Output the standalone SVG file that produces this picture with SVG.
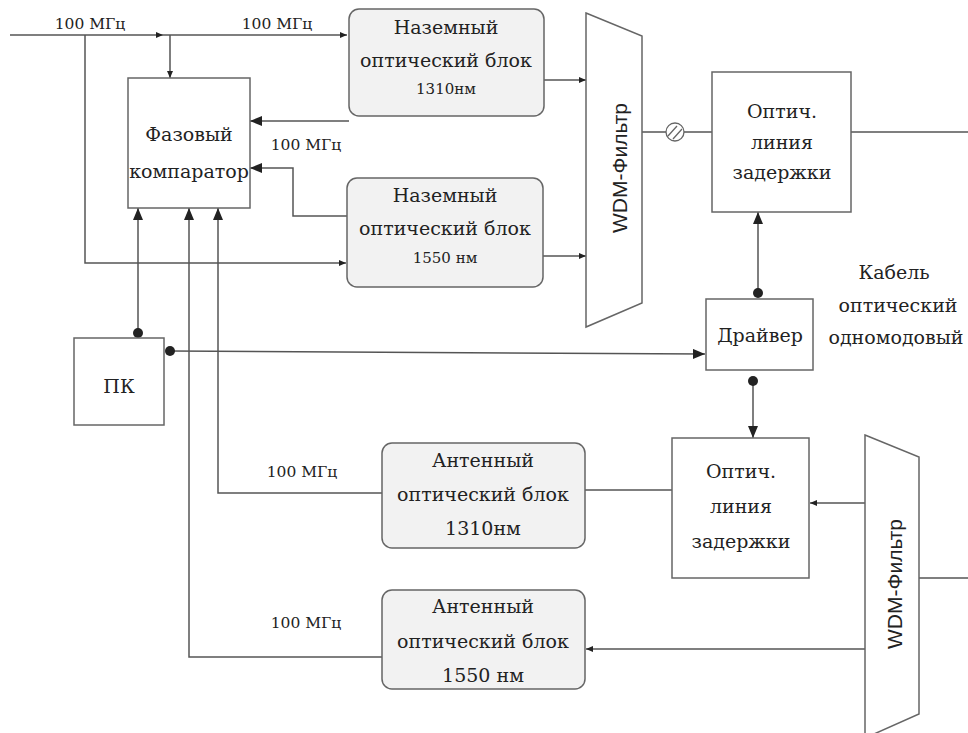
<svg xmlns="http://www.w3.org/2000/svg" width="968" height="733" viewBox="0 0 968 733">
<style>
text{font-family:"DejaVu Serif","Liberation Serif",serif;fill:#222;text-anchor:middle}
.box{fill:#fff;stroke:#666;stroke-width:1.5}
.rbox{fill:#f2f2f2;stroke:#666;stroke-width:1.5}
.ln{fill:none;stroke:#555;stroke-width:1.5}
.t{font-size:19px}
.s{font-size:15px}
.lbl{font-size:15.5px}
text.w{font-family:"Liberation Sans",Arial,sans-serif;font-size:21px}
.dot{fill:#222}
</style>
<defs>
<marker id="big" viewBox="0 0 12 10" refX="12" refY="5" markerWidth="12" markerHeight="10" markerUnits="userSpaceOnUse" orient="auto"><path d="M0,0L12,5L0,10z" fill="#222"/></marker>
<marker id="sm" viewBox="0 0 7 6" refX="7" refY="3" markerWidth="7" markerHeight="6" markerUnits="userSpaceOnUse" orient="auto"><path d="M0,0L7,3L0,6z" fill="#222"/></marker>
</defs>
<g id="connectors">
<path class="ln" d="M10,35H163" marker-end="url(#sm)"/>
<path class="ln" d="M163,35H347" marker-end="url(#sm)"/>
<path class="ln" d="M170,35V78" marker-end="url(#sm)"/>
<path class="ln" d="M85,35V263H346" marker-end="url(#sm)"/>
<path class="ln" d="M349,121H250" marker-end="url(#big)"/>
<path class="ln" d="M347,216H293V168H250" marker-end="url(#big)"/>
<path class="ln" d="M544,80H586" marker-end="url(#sm)"/>
<path class="ln" d="M543,256H586" marker-end="url(#sm)"/>
<path class="ln" d="M642,132H712"/>
<path class="ln" d="M851,132H968"/>
<path class="ln" d="M138,333V208" marker-end="url(#big)"/>
<path class="ln" d="M382,657H189V208" marker-end="url(#big)"/>
<path class="ln" d="M382,493H218V208" marker-end="url(#big)"/>
<path class="ln" d="M170,351L705,354" marker-end="url(#big)"/>
<path class="ln" d="M758,293V212" marker-end="url(#big)"/>
<path class="ln" d="M753,381V438" marker-end="url(#big)"/>
<path class="ln" d="M672,490H585"/>
<path class="ln" d="M865,503H810" marker-end="url(#sm)"/>
<path class="ln" d="M865,649H586" marker-end="url(#sm)"/>
<path class="ln" d="M919,578H968"/>
<circle class="dot" cx="138" cy="333" r="5"/>
<circle class="dot" cx="170" cy="351" r="5"/>
<circle class="dot" cx="758" cy="293" r="5"/>
<circle class="dot" cx="753" cy="381" r="5"/>
<g id="splice">
<circle cx="675" cy="132" r="9" fill="#fff" stroke="#666" stroke-width="1.3"/>
<path d="M668,136L677,126M673,139L682,129" stroke="#666" stroke-width="1.3"/>
</g>
</g>
<g id="labels">
<text class="lbl" x="90" y="29">100 МГц</text>
<text class="lbl" x="277" y="29">100 МГц</text>
<text class="lbl" x="306" y="150">100 МГц</text>
<text class="lbl" x="302" y="477">100 МГц</text>
<text class="lbl" x="306" y="628">100 МГц</text>
</g>
<g id="comparator">
<rect class="box" x="128" y="78" width="122" height="130"/>
<text class="t" x="189" y="141">Фазовый</text>
<text class="t" x="189" y="178">компаратор</text>
</g>
<g id="pc">
<rect class="box" x="74" y="338" width="90" height="87"/>
<text class="t" x="119" y="393">ПК</text>
</g>
<g id="ground1310">
<rect class="rbox" x="349" y="9" width="195" height="107" rx="10"/>
<text class="t" x="446" y="34">Наземный</text>
<text class="t" x="446" y="67">оптический блок</text>
<text class="s" x="446" y="94">1310нм</text>
</g>
<g id="ground1550">
<rect class="rbox" x="347" y="178" width="196" height="109" rx="10"/>
<text class="t" x="445" y="202">Наземный</text>
<text class="t" x="445" y="235">оптический блок</text>
<text class="s" x="445" y="263">1550 нм</text>
</g>
<g id="wdm1">
<path class="box" d="M586,13L642,36V303L586,327Z"/>
<text class="w" transform="translate(627,168) rotate(-90)">WDM-Фильтр</text>
</g>
<g id="delay1">
<rect class="box" x="712" y="72" width="139" height="140"/>
<text class="t" x="782" y="118">Оптич.</text>
<text class="t" x="782" y="149">линия</text>
<text class="t" x="782" y="179">задержки</text>
</g>
<g id="driver">
<rect class="box" x="706" y="299" width="107" height="71"/>
<text class="t" x="760" y="342">Драйвер</text>
</g>
<g id="cable">
<text class="t" x="894" y="279">Кабель</text>
<text class="t" x="898" y="312">оптический</text>
<text class="t" x="896" y="344">одномодовый</text>
</g>
<g id="delay2">
<rect class="box" x="672" y="438" width="137" height="140"/>
<text class="t" x="741" y="478">Оптич.</text>
<text class="t" x="741" y="513">линия</text>
<text class="t" x="741" y="548">задержки</text>
</g>
<g id="ant1310">
<rect class="rbox" x="382" y="443" width="203" height="105" rx="10"/>
<text class="t" x="483" y="467">Антенный</text>
<text class="t" x="483" y="501">оптический блок</text>
<text class="t" x="483" y="535">1310нм</text>
</g>
<g id="ant1550">
<rect class="rbox" x="382" y="590" width="203" height="99" rx="10"/>
<text class="t" x="483" y="613">Антенный</text>
<text class="t" x="483" y="648">оптический блок</text>
<text class="t" x="483" y="682">1550 нм</text>
</g>
<g id="wdm2">
<path class="box" d="M865,435L919,457V714L865,738Z"/>
<text class="w" transform="translate(902,584) rotate(-90)">WDM-Фильтр</text>
</g>
</svg>
